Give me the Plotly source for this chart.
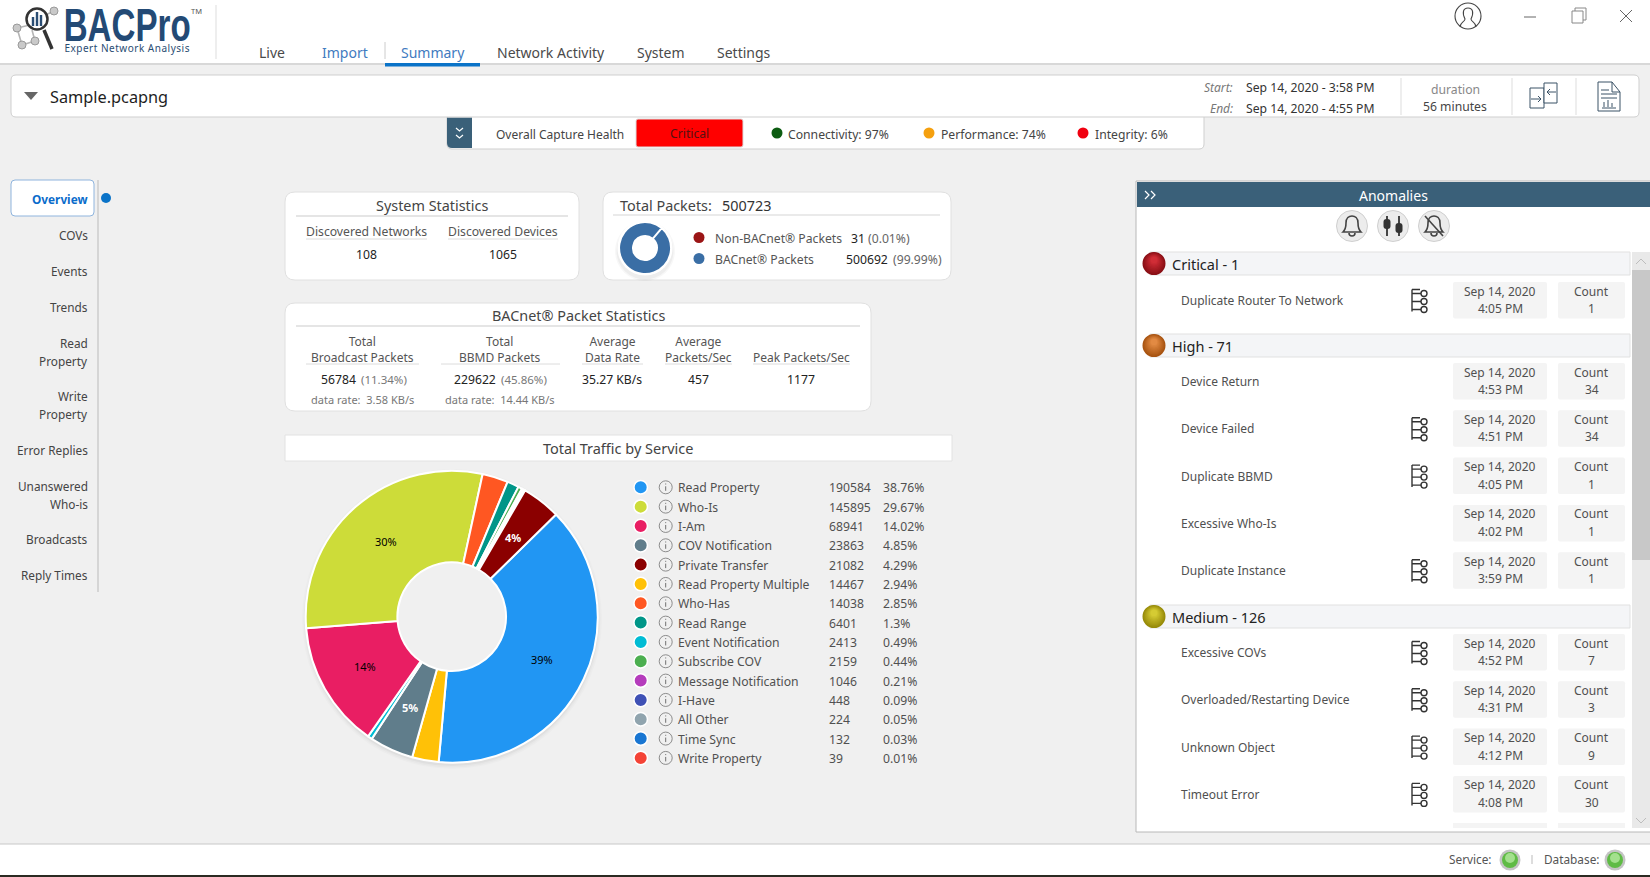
import math
import plotly.graph_objects as go

W, H = 1650, 877
FONT = "Noto Sans"
BG = "#f0f0f0"
STEEL = "#3a6079"
TXT = "#4a4a4a"
DARK = "#222222"
GREY = "#777777"

# traffic by service, legend order
service_names = ["Read Property", "Who-Is", "I-Am", "COV Notification", "Private Transfer",
                 "Read Property Multiple", "Who-Has", "Read Range", "Event Notification",
                 "Subscribe COV", "Message Notification", "I-Have", "All Other", "Time Sync",
                 "Write Property"]
service_counts = [190584, 145895, 68941, 23863, 21082, 14467, 14038, 6401, 2413, 2159, 1046,
                  448, 224, 132, 39]
service_pcts = ["38.76%", "29.67%", "14.02%", "4.85%", "4.29%", "2.94%", "2.85%", "1.3%",
                "0.49%", "0.44%", "0.21%", "0.09%", "0.05%", "0.03%", "0.01%"]
service_colors = ["#2196f3", "#cddc39", "#e91e63", "#607d8b", "#8b0000", "#ffc107", "#ff5722",
                  "#009688", "#00bcd4", "#4caf50", "#b53cbc", "#3f51b5", "#90a4ae", "#1976d2",
                  "#f44336"]
# slices run clockwise in this order in the donut
pie_order = ["Read Property", "Read Property Multiple", "COV Notification", "Event Notification",
             "I-Am", "Who-Is", "Who-Has", "Read Range", "Subscribe COV", "Message Notification",
             "I-Have", "All Other", "Time Sync", "Write Property", "Private Transfer"]
pie_labels = {"Read Property": ("39%", "#000000"), "Who-Is": ("30%", "#000000"),
              "I-Am": ("14%", "#000000"), "COV Notification": ("<b>5%</b>", "#ffffff"),
              "Private Transfer": ("<b>4%</b>", "#ffffff")}

packet_names = ["Non-BACnet® Packets", "BACnet® Packets"]
packet_counts = [31, 500692]
packet_pcts = ["(0.01%)", "(99.99%)"]
packet_colors = ["#9b1516", "#3a6ea5"]

nav_items = ["Overview", "COVs", "Events", "Trends", "Read<br>Property", "Write<br>Property",
             "Error Replies", "Unanswered<br>Who-is", "Broadcasts", "Reply Times"]

tab_names = ["Live", "Import", "Summary", "Network Activity", "System", "Settings"]

health_names = ["Connectivity: 97%", "Performance: 74%", "Integrity: 6%"]
health_colors = ["#0d5c12", "#f5a00f", "#f00010"]

stat_heads = ["Total<br>Broadcast Packets", "Total<br>BBMD Packets", "Average<br>Data Rate",
              "Average<br>Packets/Sec", "Peak Packets/Sec"]
stat_values = ["56784", "229622", "35.27 KB/s", "457", "1177"]
stat_shares = ["(11.34%)", "(45.86%)"]
stat_rates = ["data rate:  3.58 KB/s", "data rate:  14.44 KB/s"]

critical_rows = [("Duplicate Router To Network", "4:05 PM", "1", True)]
high_rows = [("Device Return", "4:53 PM", "34", False), ("Device Failed", "4:51 PM", "34", True),
             ("Duplicate BBMD", "4:05 PM", "1", True), ("Excessive Who-Is", "4:02 PM", "1", False),
             ("Duplicate Instance", "3:59 PM", "1", True)]
medium_rows = [("Excessive COVs", "4:52 PM", "7", True),
               ("Overloaded/Restarting Device", "4:31 PM", "3", True),
               ("Unknown Object", "4:12 PM", "9", True), ("Timeout Error", "4:08 PM", "30", True)]

shapes = []
notes = []


def rect(x0, y0, x1, y1, fill=None, line=None, lw=1):
    shapes.append(dict(type="rect", xref="x", yref="y", x0=x0, y0=y0, x1=x1, y1=y1, layer="below",
                       fillcolor=fill or "rgba(0,0,0,0)",
                       line=dict(color=line or "rgba(0,0,0,0)", width=lw if line else 0)))


def path(d, fill=None, line=None, lw=1):
    shapes.append(dict(type="path", xref="x", yref="y", path=d, layer="below",
                       fillcolor=fill or "rgba(0,0,0,0)",
                       line=dict(color=line or "rgba(0,0,0,0)", width=lw if line else 0)))


def rrect(x0, y0, x1, y1, r, fill=None, line=None, lw=1):
    d = (f"M{x0+r},{y0} L{x1-r},{y0} Q{x1},{y0} {x1},{y0+r} L{x1},{y1-r} Q{x1},{y1} {x1-r},{y1} "
         f"L{x0+r},{y1} Q{x0},{y1} {x0},{y1-r} L{x0},{y0+r} Q{x0},{y0} {x0+r},{y0} Z")
    path(d, fill, line, lw)


def circle(cx, cy, r, fill=None, line=None, lw=1):
    shapes.append(dict(type="circle", xref="x", yref="y", x0=cx-r, y0=cy-r, x1=cx+r, y1=cy+r,
                       layer="below", fillcolor=fill or "rgba(0,0,0,0)",
                       line=dict(color=line or "rgba(0,0,0,0)", width=lw if line else 0)))


def seg(x0, y0, x1, y1, color="#cccccc", lw=1):
    shapes.append(dict(type="line", xref="x", yref="y", x0=x0, y0=y0, x1=x1, y1=y1, layer="below",
                       line=dict(color=color, width=lw)))


def txt(x, y, s, size=12.2, color=TXT, anchor="left", font=FONT):
    notes.append(dict(x=x, y=y, xref="x", yref="y", text=s, showarrow=False, xanchor=anchor,
                      yanchor="middle", align=anchor, borderpad=0,
                      font=dict(family=font, size=size, color=color)))


def mix(a, b, t):
    ca = [int(a[i:i+2], 16) for i in (1, 3, 5)]
    cb = [int(b[i:i+2], 16) for i in (1, 3, 5)]
    return "#" + "".join(f"{round(p + (q - p) * t):02x}" for p, q in zip(ca, cb))


def ball(cx, cy, r, dark, light):
    # gradient sphere faked with stacked circles drifting toward the highlight
    steps = 10
    for k in range(steps):
        t = k / steps
        circle(cx, cy - r * 0.35 * t, r * (1 - 0.8 * t), mix(dark, light, t))


def tree(cx, cy, color="#333333"):
    x = cx - 7
    path(f"M{x},{cy-11} L{x},{cy+11} M{x},{cy-11} L{x+8},{cy-11} M{x},{cy-7} L{x+9},{cy-7} "
         f"M{x},{cy+1} L{x+9},{cy+1} M{x},{cy+9} L{x+9},{cy+9}", None, color, 1.4)
    for dy in (-7, 1, 9):
        circle(x + 12, cy + dy, 3, "#ffffff", color, 1.4)


def bell(cx, cy, color="#444444"):
    path(f"M{cx-9},{cy+6} C{cx-6},{cy+3} {cx-6},{cy} {cx-6},{cy-3} C{cx-6},{cy-8} {cx-3},{cy-10} "
         f"{cx},{cy-10} C{cx+3},{cy-10} {cx+6},{cy-8} {cx+6},{cy-3} C{cx+6},{cy} {cx+6},{cy+3} "
         f"{cx+9},{cy+6} Z M{cx-3},{cy+7} C{cx-3},{cy+11} {cx+3},{cy+11} {cx+3},{cy+7}",
         None, color, 1.6)


def info(cx, cy):
    circle(cx, cy, 6.5, None, "#808080", 0.9)
    seg(cx, cy - 1, cx, cy + 3.5, "#707070", 1)
    seg(cx, cy - 3.8, cx, cy - 2.8, "#707070", 1)


rect(0, 0, W, H, BG)

# header
rect(0, 0, W, 63, "#ffffff")
seg(0, 64, W, 64, "#d8d8d8", 2)
seg(216, 5, 216, 59, "#dddddd", 1)

# logo
for a, b in [((54, 11), (37, 19)), ((17, 28), (30, 25)), ((17, 28), (22, 45)), ((22, 45), (35, 41)),
             ((35, 41), (32, 30))]:
    seg(a[0], a[1], b[0], b[1], "#b5b5b5", 1.6)
for c in [(54, 11), (17, 28), (22, 45), (35, 41)]:
    circle(c[0], c[1], 4, "#c9c9c9", "#9a9a9a", 1)
seg(44, 30, 52, 49, "#333333", 3.5)
circle(37, 19, 10.5, "#ffffff", "#333333", 2.5)
for bx, bt in [(33, 17), (37, 12), (41, 15)]:
    rect(bx - 1.2, bt, bx + 1.2, 26, "#2a4d73")
txt(127, 25, "<b>BACPro</b>", 46, "#234a75", "center", "Liberation Sans")
txt(126.5, 48, "Expert Network Analysis", 10, "#2a4d73", "center")
txt(196, 11, "TM", 7.5, "#555555", "center")

# tabs
tab_centers = [272, 345, 433, 551, 661, 744]
for name, cx in zip(tab_names, tab_centers):
    col = "#3f7bc0" if name in ("Import", "Summary") else "#4a4a4a"
    txt(cx, 52, name, 14, col, "center")
seg(385, 42, 385, 59, "#cccccc", 1)
rect(385, 63, 480, 66.5, "#0a73c8")

# window controls
circle(1468, 16, 13, None, "#444444", 1.1)
path("M1460,27 C1460,22 1465,22 1465,19 C1462,13 1463,8 1468,8 C1473,8 1474,13 1471,19 "
     "C1471,22 1476,22 1476,27", None, "#444444", 1.1)
seg(1524, 17, 1536, 17, "#666666", 1)
rect(1572, 11, 1583, 23, None, "#888888", 1)
path("M1575,11 L1575,8 L1586,8 L1586,20 L1583,20", None, "#888888", 1)
seg(1620, 10, 1632, 22, "#666666", 1)
seg(1632, 10, 1620, 22, "#666666", 1)

# capture health strip, its top hidden under the file bar
rrect(447, 105, 1204, 149, 5, "#ffffff", "#cfcfcf", 1)
path("M447,117.5 L472,117.5 L472,148 L452,148 Q447,148 447,143 Z", STEEL)
path("M456,128 L459.5,131 L463,128 M456,135 L459.5,138 L463,135", None, "#ffffff", 1.2)
txt(494.5, 134, "Overall Capture Health", 12, "#444444")
rrect(636, 119, 743, 147, 2, "#ff0000", "#dddddd", 1)
txt(689.5, 133, "Critical", 12.2, "#551111", "center")
for name, col, dx, tx in zip(health_names, health_colors, [777, 929, 1083], [787, 940, 1094]):
    circle(dx, 133, 5.5, col)
    txt(tx, 134, name, 12.2, "#444444")

# file bar
rrect(11, 75, 1639, 117, 5, "#ffffff", "#cfcfcf", 1)
path("M24,92 L38,92 L31,100 Z", "#666666")
txt(49, 97, "Sample.pcapng", 16.3, "#1e1e1e")
txt(1234, 87, "<i>Start:</i>", 12, "#777777", "right")
txt(1234, 108, "<i>End:</i>", 12, "#777777", "right")
txt(1244.5, 87, "Sep 14, 2020 - 3:58 PM", 12.2, "#333333")
txt(1244.5, 108, "Sep 14, 2020 - 4:55 PM", 12.2, "#333333")
for x in (1401, 1512, 1576):
    seg(x, 78, x, 115, "#dddddd", 1)
txt(1455, 89, "duration", 12.2, "#888888", "center")
txt(1455, 106, "56 minutes", 12.2, "#444444", "center")
rect(1530, 88, 1544, 108, "#ffffff", "#3b5266", 1)
rect(1544, 83, 1557, 103, "#ffffff", "#3b5266", 1)
path("M1531,99 L1541,99 M1538,96 L1541,99 L1538,102 M1556,92 L1547,92 M1550,89 L1547,92 L1550,95",
     None, "#3b5266", 1)
path("M1598,82 L1612,82 L1620,92 L1620,111 L1598,111 Z M1612,82 L1612,92 L1620,92 "
     "M1601,90 L1609,90 M1601,94 L1617,94 M1601,98 L1617,98 "
     "M1602,108 L1616,108 M1604,107 L1604,102 M1608,107 L1608,100 M1612,107 L1612,103",
     None, "#3b5266", 1)

# left navigation
nav_y = [199, 235, 271, 307, 352, 405, 450, 495, 539, 575]
rrect(11, 180, 94, 216, 4, "#ffffff", "#8fb4dd", 1)
seg(98, 180, 98, 592, "#d5d5d5", 2)
circle(106, 198, 5, "#0a73c8")
for item, y in zip(nav_items, nav_y):
    if item == "Overview":
        txt(89, y, "<b>Overview</b>", 11.8, "#0a6ccb", "right")
    elif "<br>" in item:
        first, second = item.split("<br>")
        txt(89, y - 8.7, first, 11.8, "#444444", "right")
        txt(89, y + 8.7, second, 11.8, "#444444", "right")
    else:
        txt(89, y, item, 11.8, "#444444", "right")

# system statistics card
rrect(285, 192, 579, 280, 10, "#ffffff", "#e0e0e0", 1)
txt(432, 205, "System Statistics", 14.4, "#444444", "center")
seg(296, 216, 568, 216, "#dcdcdc", 1.5)
txt(366, 231, "Discovered Networks", 12.2, "#555555", "center")
txt(503, 231, "Discovered Devices", 12.2, "#555555", "center")
seg(306, 239, 427, 239, "#dcdcdc", 1)
seg(448, 239, 558, 239, "#dcdcdc", 1)
txt(366, 254, "108", 12.2, DARK, "center")
txt(503, 254, "1065", 12.2, DARK, "center")

# total packets card
rrect(603, 192, 951, 280, 10, "#ffffff", "#e0e0e0", 1)
txt(618.5, 205, "Total Packets:", 14.4, "#444444")
txt(721, 205, "500723", 14.4, "#333333")
seg(613, 215, 940, 215, "#d5d5d5", 1)
for rr, op in [(30, 0.03), (28.5, 0.04)]:
    circle(645, 251, rr, f"rgba(0,0,0,{op})")
circle(645, 248, 27.5, "#ffffff")
for name, n, pct, col, y, nx, px in zip(packet_names, packet_counts, packet_pcts, packet_colors,
                                        [238, 259], [849.5, 844.5], [867, 892]):
    circle(699, y - 0.5, 5.5, col)
    txt(714, y, name, 12.2, "#555555")
    txt(nx, y, str(n), 12.2, DARK)
    txt(px, y, pct, 12.2, "#666666")

# packet statistics card
rrect(285, 303, 871, 411, 10, "#ffffff", "#e0e0e0", 1)
txt(578, 315.5, "BACnet® Packet Statistics", 14.4, "#444444", "center")
seg(296, 326, 860, 326, "#dcdcdc", 1.5)
col_centers = [362, 500, 612, 698, 801]
col_rules = [(306, 419), (441, 560), (582, 643), (665, 732), (753, 850)]
for head, cx, (a, b) in zip(stat_heads, col_centers, col_rules):
    y = 349.5 if "<br>" in head else 357
    txt(cx, y, head, 12, "#555555", "center")
    seg(a, 364, b, 364, "#dcdcdc", 1)
value_x = [338, 475, 612, 698, 801]
for v, cx in zip(stat_values, value_x):
    txt(cx, 379, v, 12.2, DARK, "center")
for s, cx in zip(stat_shares, [384, 524]):
    txt(cx, 379, s, 11.5, "#777777", "center")
for s, cx in zip(stat_rates, col_centers):
    txt(cx, 399, s, 11, GREY, "center")

# traffic panel
rect(285, 435, 952, 461, "#ffffff", "#e2e2e2", 1)
txt(618, 448, "Total Traffic by Service", 14.5, "#444444", "center")
for rr, op in [(150, 0.015), (148.5, 0.02), (147, 0.03)]:
    circle(452, 619, rr, f"rgba(0,0,0,{op})")
circle(451.7, 616.7, 56, BG)

for i, name in enumerate(service_names):
    y = 487.3 + i * 19.33
    circle(640.7, y, 7.5, "#ffffff")
    circle(640.7, y, 6, service_colors[i])
    info(665.7, y)
    txt(677, y + 0.5, name, 12.2, "#505050")
    txt(828, y + 0.5, str(service_counts[i]), 12.2, "#505050")
    txt(881.5, y + 0.5, service_pcts[i], 12.2, "#505050")

# anomalies panel
rect(1136, 181, W + 2, 832, "#ffffff", "#b8b8b8", 1)
rect(1137, 182, W, 207, STEEL)
txt(1393, 195, "Anomalies", 14, "#ffffff", "center")
path("M1145,191 L1149,195 L1145,199 M1151,191 L1155,195 L1151,199", None, "#ffffff", 1.2)
for cx in (1352, 1393, 1434):
    circle(cx, 226, 15.5, "#ececec", "#cfcfcf", 1)
bell(1352, 226)
seg(1387, 216, 1387, 236, "#333333", 1.8)
seg(1399, 216, 1399, 236, "#333333", 1.8)
rrect(1383.5, 219, 1390.5, 229, 3, "#333333")
rrect(1395.5, 223, 1402.5, 233, 3, "#333333")
bell(1434, 226)
seg(1425, 216, 1443, 236, "#444444", 1.6)

# scrollbar
rect(1632, 252, W, 828, "#e9e9e9")
rect(1632, 270, W, 560, "#c8c8c8")
path("M1636,264 L1641,259 L1646,264", None, "#bdbdbd", 1)
path("M1636,818 L1641,823 L1646,818", None, "#bdbdbd", 1)

sections = [("Critical - 1", critical_rows, 252, 282, ("#8a1016", "#d8303a")),
            ("High - 71", high_rows, 334, 363, ("#a85412", "#e89048")),
            ("Medium - 126", medium_rows, 605, 634, ("#978b0a", "#dcd238"))]
for title, rows, bar_y, box_y, tones in sections:
    rect(1150, bar_y, 1630, bar_y + 23, "#f4f5f7", "#e1e1e1", 1)
    ball(1154, bar_y + 11.5, 11.5, *tones)
    txt(1171, bar_y + 12, title, 14.5, "#222222")
    for j, (name, when, count, has_tree) in enumerate(rows):
        top = box_y + j * 47.3
        mid = top + 18.5
        txt(1179.5, mid, name, 12, "#505050")
        if has_tree:
            tree(1419, mid)
        rrect(1453, top, 1547, top + 36.5, 2, "#f4f4f4")
        rrect(1558, top, 1625, top + 36.5, 2, "#f4f4f4")
        txt(1500, top + 9, "Sep 14, 2020", 12, "#505050", "center")
        txt(1500, top + 26.5, when, 12, "#505050", "center")
        txt(1591.5, top + 9, "Count", 12, "#505050", "center")
        txt(1591.5, top + 26.5, count, 12, "#505050", "center")
rect(1453, 823, 1547, 828, "#f4f4f4")
rect(1558, 823, 1625, 828, "#f4f4f4")

# footer
rect(0, 844, W, 875, "#ffffff")
seg(0, 844, W, 844, "#c8c8c8", 1)
rect(0, 875, W, H, "#2b2b22")
txt(1493, 859, "Service:", 11.8, "#555555", "right")
seg(1532, 855, 1532, 864, "#bbbbbb", 1)
txt(1543, 859, "Database:", 11.8, "#555555")
for cx in (1510, 1615):
    circle(cx, 860, 10.5, "#c4c4c4")
    circle(cx, 860, 8, "#5fbb45")
    circle(cx, 858, 5, "#a3e08d")

by_name = dict(zip(service_names, zip(service_counts, service_colors)))
pie_values = [by_name[n][0] for n in pie_order]

fig = go.Figure()
# hidden scatter keeps the page axes alive for the pixel-placed panels
fig.add_trace(go.Scatter(x=[0, W], y=[0, H], mode="markers", marker=dict(opacity=0),
                         hoverinfo="skip", showlegend=False))
cx, cy, r, hole, start = 451.7, 616.7, 146, 0.372, 45.6
fig.add_trace(go.Pie(
    labels=pie_order, values=pie_values,
    sort=False, direction="clockwise", rotation=start, hole=hole,
    marker=dict(colors=[by_name[n][1] for n in pie_order], line=dict(color="#ffffff", width=2)),
    textinfo="none",
    domain=dict(x=[(cx - r) / W, (cx + r) / W], y=[1 - (cy + r) / H, 1 - (cy - r) / H]),
    hoverinfo="skip", showlegend=False,
))
# slice labels sit at the middle of each ring sector, plotly pushes narrow ones outward itself
total = sum(pie_values)
done = 0
for n, v in zip(pie_order, pie_values):
    if n in pie_labels:
        angle = math.radians(start + (done + v / 2) / total * 360)
        rm = r * (1 + hole) / 2
        label, col = pie_labels[n]
        txt(cx + rm * math.sin(angle), cy - rm * math.cos(angle), label, 11, col, "center")
    done += v
cx, cy, r = 645, 248, 26
fig.add_trace(go.Pie(
    labels=packet_names, values=packet_counts, sort=False, direction="clockwise", rotation=40,
    hole=0.46, textinfo="none",
    marker=dict(colors=packet_colors, line=dict(color="#ffffff", width=2)),
    domain=dict(x=[(cx - r) / W, (cx + r) / W], y=[1 - (cy + r) / H, 1 - (cy - r) / H]),
    hoverinfo="skip", showlegend=False,
))

fig.update_layout(
    width=W, height=H, margin=dict(l=0, r=0, t=0, b=0, autoexpand=False),
    paper_bgcolor=BG, plot_bgcolor=BG, showlegend=False,
    xaxis=dict(range=[0, W], visible=False, fixedrange=True),
    yaxis=dict(range=[H, 0], visible=False, fixedrange=True),
    shapes=shapes, annotations=notes,
)

# the logo wordmark is condensed, no narrow font is installed so squeeze the glyphs
fit_logo = """
document.body.style.margin='0';document.body.style.overflow='hidden';
document.querySelectorAll('.annotation-text').forEach(function(t){
  if(t.textContent==='BACPro'){t.setAttribute('textLength','127');t.setAttribute('lengthAdjust','spacingAndGlyphs');}
  if(t.textContent==='Expert Network Analysis'){t.setAttribute('textLength','125');}
});
"""
fig.write_html("out.html", config=dict(displayModeBar=False), post_script=fit_logo)
